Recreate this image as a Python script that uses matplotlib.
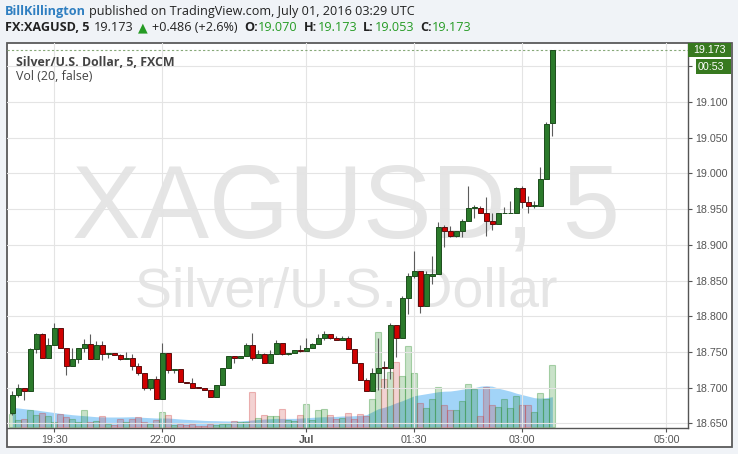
import numpy as np
import pandas as pd
import matplotlib
matplotlib.use('Agg')
import matplotlib.pyplot as plt
from matplotlib.patches import Rectangle

# XAGUSD 5 min (FXCM), 30 Jun 18:55 -> 1 Jul 03:25 UTC, pause 21:00-22:00
opens = [18.664, 18.689, 18.699, 18.695, 18.754, 18.775, 18.741, 18.759, 18.784, 18.755,
         18.730, 18.740, 18.755, 18.761, 18.740, 18.759, 18.747, 18.748, 18.746, 18.740,
         18.741, 18.730, 18.720, 18.699, 18.712, 18.684, 18.748, 18.724, 18.726, 18.708,
         18.706, 18.700, 18.699, 18.697, 18.687, 18.703, 18.728, 18.744, 18.741, 18.744,
         18.759, 18.741, 18.747, 18.734, 18.747, 18.763, 18.747, 18.749, 18.753, 18.751,
         18.755, 18.761, 18.769, 18.775, 18.769, 18.766, 18.769, 18.754, 18.734, 18.710,
         18.695, 18.720, 18.728, 18.727, 18.787, 18.769, 18.825, 18.857, 18.863, 18.814,
         18.857, 18.859, 18.925, 18.919, 18.913, 18.919, 18.934, 18.952, 18.952, 18.944,
         18.934, 18.929, 18.944, 18.944, 18.944, 18.979, 18.960, 18.955, 18.955, 18.992,
         19.070]
highs = [18.695, 18.705, 18.699, 18.756, 18.777, 18.776, 18.769, 18.790, 18.784, 18.755,
         18.755, 18.755, 18.768, 18.775, 18.765, 18.765, 18.748, 18.748, 18.747, 18.750,
         18.747, 18.734, 18.720, 18.712, 18.716, 18.762, 18.748, 18.726, 18.726, 18.708,
         18.714, 18.700, 18.699, 18.697, 18.703, 18.728, 18.744, 18.744, 18.744, 18.763,
         18.776, 18.752, 18.748, 18.753, 18.766, 18.763, 18.749, 18.753, 18.759, 18.770,
         18.763, 18.775, 18.779, 18.775, 18.772, 18.772, 18.772, 18.754, 18.734, 18.713,
         18.728, 18.769, 18.737, 18.790, 18.787, 18.829, 18.860, 18.892, 18.863, 18.864,
         18.884, 18.932, 18.928, 18.927, 18.919, 18.936, 18.982, 18.956, 18.954, 18.967,
         18.945, 18.944, 18.953, 18.962, 18.981, 18.983, 18.969, 18.961, 19.009, 19.072,
         19.173]
lows = [18.662, 18.687, 18.682, 18.695, 18.748, 18.741, 18.741, 18.759, 18.755, 18.718,
        18.730, 18.735, 18.750, 18.740, 18.740, 18.738, 18.742, 18.746, 18.738, 18.740,
        18.724, 18.717, 18.697, 18.697, 18.684, 18.684, 18.721, 18.721, 18.708, 18.706,
        18.700, 18.699, 18.697, 18.687, 18.687, 18.703, 18.728, 18.735, 18.741, 18.744,
        18.739, 18.741, 18.734, 18.734, 18.747, 18.745, 18.745, 18.749, 18.750, 18.751,
        18.755, 18.761, 18.767, 18.768, 18.766, 18.766, 18.754, 18.734, 18.710, 18.695,
        18.695, 18.696, 18.700, 18.712, 18.743, 18.769, 18.803, 18.854, 18.805, 18.814,
        18.845, 18.859, 18.897, 18.911, 18.911, 18.911, 18.934, 18.938, 18.944, 18.913,
        18.921, 18.929, 18.944, 18.944, 18.944, 18.952, 18.945, 18.951, 18.955, 18.992,
        19.053]
closes = [18.689, 18.699, 18.695, 18.754, 18.775, 18.741, 18.759, 18.784, 18.755, 18.730,
          18.740, 18.755, 18.761, 18.740, 18.759, 18.747, 18.748, 18.746, 18.740, 18.741,
          18.730, 18.720, 18.699, 18.712, 18.684, 18.748, 18.724, 18.726, 18.708, 18.706,
          18.700, 18.699, 18.697, 18.687, 18.703, 18.728, 18.744, 18.741, 18.744, 18.759,
          18.741, 18.747, 18.734, 18.747, 18.763, 18.747, 18.749, 18.753, 18.751, 18.755,
          18.761, 18.769, 18.775, 18.769, 18.766, 18.769, 18.754, 18.734, 18.710, 18.695,
          18.720, 18.728, 18.727, 18.787, 18.769, 18.825, 18.857, 18.863, 18.814, 18.859,
          18.859, 18.925, 18.919, 18.913, 18.919, 18.934, 18.952, 18.953, 18.944, 18.934,
          18.929, 18.944, 18.945, 18.945, 18.979, 18.960, 18.955, 18.956, 18.992, 19.069,
          19.173]
volumes = [13, 7, 8, 17, 12, 14, 11, 5, 13, 10,
           8, 5, 17, 5, 6, 11, 3, 2, 7.7, 4.3,
           7.7, 9.3, 4.3, 2.3, 6.7, 14.3, 11.3, 1.7, 2.7, 1.7,
           2.7, 1, 1, 2.7, 1.7, 2.7, 2.7, 5.3, 4.3, 5,
           34.3, 8.3, 11.3, 10.3, 10.3, 17.3, 6.7, 6, 11.3, 22.3,
           6.7, 16.3, 17.3, 11.3, 8, 9, 14, 8, 13, 10.7,
           28, 95, 48, 55, 65, 51, 81, 54, 24, 19,
           28, 40, 22, 16.7, 16.7, 25.3, 42.7, 37.7, 10.3, 40,
           21.7, 19.3, 27.3, 18.3, 30.7, 21.7, 21.7, 14.7, 33.7, 27.3,
           61.3]
# Vol (20) moving average as drawn on the chart
vol_ma = [19.3, 18.7, 18, 17.3, 16.7, 15.8, 15, 14.2, 13.3, 12.7,
          12, 11.5, 11, 10.5, 10, 9.8, 9.7, 9.7, 9.7, 9.8,
          10, 9.6, 9.3, 9, 8.7, 8.7, 8.7, 8.2, 7.7, 7.3,
          7, 6.7, 6.3, 6.1, 6, 5.8, 5.7, 5.7, 5.7, 6.2,
          6.7, 7.2, 7.7, 8, 8.3, 8.3, 8.3, 8.3, 8.6, 9,
          9.4, 9.7, 10, 10, 10.3, 10.7, 10.7, 11, 11.3, 12,
          15, 18, 19.5, 21.5, 24, 26, 28.5, 31, 32, 33,
          34, 35, 35.5, 35.7, 36.5, 37.5, 38.3, 39, 40.5, 41,
          40.5, 38.5, 37, 35.5, 33.5, 32, 30.5, 29, 28.5, 29,
          30]

session_1 = pd.date_range('2016-06-30 18:55', '2016-06-30 20:55', freq='5min')
session_2 = pd.date_range('2016-06-30 22:00', '2016-07-01 03:25', freq='5min')
times = session_1.append(session_2)

tick_times = ['2016-06-30 19:30', '2016-06-30 22:00', '2016-07-01 00:00',
              '2016-07-01 01:30', '2016-07-01 03:00', '2016-07-01 05:00']
tick_labels = ['19:30', '22:00', 'Jul', '01:30', '03:00', '05:00']
price_ticks = [18.65, 18.70, 18.75, 18.80, 18.85, 18.90, 18.95, 19.00, 19.05, 19.10, 19.15]


def bar_index(t):
    t = pd.Timestamp(t)
    if t in times:
        return times.get_loc(t)
    return len(times) - 1 + (t - times[-1]) / pd.Timedelta('5min')


W, H = 738, 454
fig = plt.figure(figsize=(W / 100, H / 100), dpi=100, facecolor='#f0f3f7')


def fx(px):
    return px / W


def fy(py):
    return 1 - py / H


# white chart frame
fig.patches.append(Rectangle((fx(7), fy(447)), fx(732) - fx(7), fy(43) - fy(447),
                             transform=fig.transFigure, facecolor='white',
                             edgecolor='#5a5a5a', lw=1.3, zorder=0))

rect = [fx(7), fy(428), fx(688) - fx(7), fy(43) - fy(428)]
ax = fig.add_axes(rect)
axv = ax.twinx()
ax.set_zorder(3)
axv.set_zorder(2)
ax.patch.set_visible(False)

idx = np.arange(len(closes))
up = np.array(closes) >= np.array(opens)

# watermark
axv.text(fx(346), fy(238), 'XAGUSD, 5', transform=fig.transFigure, ha='center', va='baseline',
         fontsize=74, color='#e5e5e5', family='Liberation Sans', zorder=0)
axv.text(fx(346), fy(307), 'Silver/U.S. Dollar', transform=fig.transFigure, ha='center',
         va='baseline', fontsize=40, color='#e5e5e5', family='Liberation Sans', zorder=0)

# volume + MA area
axv.fill_between(idx, 0, vol_ma, color='#a2d4f8', lw=0, zorder=1)
vcol = [(0.16, 0.55, 0.16, 0.25) if u else (0.80, 0.20, 0.20, 0.22) for u in up]
vedge = [(0.16, 0.55, 0.16, 0.35) if u else (0.80, 0.20, 0.20, 0.32) for u in up]
axv.bar(idx, volumes, width=1.0, color=vcol, edgecolor=vedge, lw=0.8, zorder=2)
axv.set_ylim(-1.3, 385 - 1.3)
axv.set_yticks([])
for s in axv.spines.values():
    s.set_visible(False)

# candles
ax.vlines(idx, lows, highs, color='#5c5c5c', lw=0.8, zorder=3)
body_lo = np.minimum(opens, closes)
body_h = np.maximum(np.abs(np.array(closes) - np.array(opens)), 0.0012)
ax.bar(idx, body_h, bottom=body_lo, width=0.78,
       color=np.where(up, '#2b7a2b', '#d00000'),
       edgecolor=np.where(up, '#1d4d1d', '#5a0e0e'), lw=0.7, zorder=4)

ax.axhline(closes[-1], color='#86a878', lw=0.8, ls=(0, (2, 2)), zorder=2)

ax.set_xlim(-0.88, 112.6)
ax.set_ylim(18.6434, 19.1827)
ax.set_xticks([bar_index(t) for t in tick_times])
ax.set_xticklabels(tick_labels)
ax.get_xticklabels()[2].set_fontweight('bold')
ax.set_yticks(price_ticks)
ax.set_yticklabels(['%.3f' % p for p in price_ticks])
ax.yaxis.tick_right()
ax.tick_params(axis='both', colors='#555555', labelsize=7.7, length=3, width=0.8, pad=2)
for lab in ax.get_xticklabels() + ax.get_yticklabels():
    lab.set_family('Liberation Sans')
ax.grid(color='#e4e4e4', lw=0.8)
ax.set_axisbelow(True)
for side in ['top', 'left']:
    ax.spines[side].set_visible(False)
for side in ['right', 'bottom']:
    ax.spines[side].set_color('#555555')
    ax.spines[side].set_linewidth(1.0)

# last price and countdown boxes
fig.patches.append(Rectangle((fx(688), fy(57)), fx(731) - fx(688), fy(43) - fy(57),
                             transform=fig.transFigure, fc='#37791f', ec='none', zorder=10))
cd_box = Rectangle((fx(696), fy(74)), fx(731) - fx(696), fy(59) - fy(74),
                   transform=fig.transFigure, fc='#37791f', ec='none', zorder=10)
fig.patches.append(cd_box)
fig.text(fx(693), fy(50), '%.3f' % closes[-1], color='white', fontsize=7.7,
         family='Liberation Sans', va='center', ha='left', zorder=11)
fig.text(fx(698), fy(66.5), '00:53', color='white', fontsize=7.7,
         family='Liberation Sans', va='center', ha='left', zorder=11)

# the 19.150 label sits under the countdown box: only its first digit shows
clip = Rectangle((fx(688), fy(75)), fx(696) - fx(688), fy(58) - fy(75), transform=fig.transFigure)
ax.get_yticklabels()[-1].set_clip_path(clip)

# header and legend text
renderer = fig.canvas.get_renderer()
fams = ['Open Sans', 'DejaVu Sans']


def write_runs(x, y, runs, size):
    for text, color, weight, gap in runs:
        t = fig.text(fx(x), fy(y), text, color=color, fontsize=size, fontweight=weight,
                     family=fams, va='baseline', ha='left')
        x += t.get_window_extent(renderer).width + gap


green = '#259b24'
dark = '#222222'
write_runs(5, 14.5, [('BillKillington', '#2f7fc1', 'bold', 3.4),
                     ('published on TradingView.com, July 01, 2016 03:29 UTC', dark, 'normal', 0)], 9.05)
write_runs(5, 31, [('FX:XAGUSD, 5', dark, 'bold', 4.5),
                   ('%.3f' % closes[-1], dark, 'normal', 4.5),
                   ('\u25b2', green, 'normal', 4.5),
                   ('+0.486 (+2.6%)', dark, 'normal', 6),
                   ('O:', dark, 'bold', 0.5), ('%.3f' % opens[-1], green, 'normal', 6),
                   ('H:', dark, 'bold', 0.5), ('%.3f' % highs[-1], green, 'normal', 6),
                   ('L:', dark, 'bold', 0.5), ('%.3f' % lows[-1], green, 'normal', 6),
                   ('C:', dark, 'bold', 0.5), ('%.3f' % closes[-1], green, 'normal', 0)], 9.05)
write_runs(16, 66, [('Silver/U.S. Dollar, 5, FXCM', '#444444', 'bold', 0)], 8.9)
write_runs(16, 79.5, [('Vol (20, false)', '#444444', 'normal', 0)], 8.9)

fig.savefig('out.png', dpi=100, facecolor=fig.get_facecolor())
